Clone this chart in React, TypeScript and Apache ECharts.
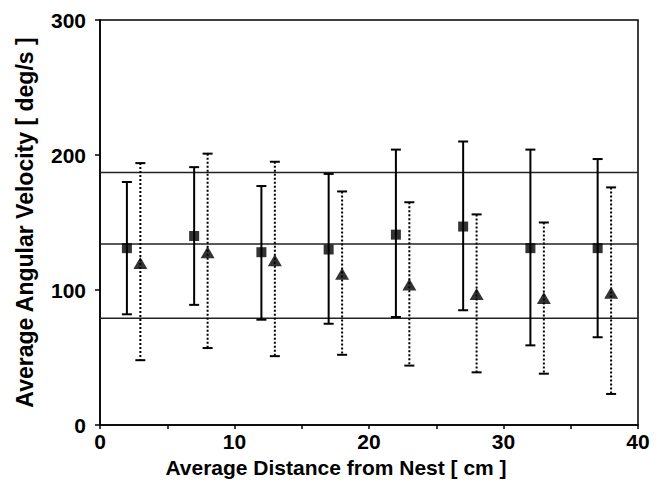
import React, { useEffect, useRef } from "react";
import * as echarts from "echarts";

const xSquare = [2, 7, 12, 17, 22, 27, 32, 37];
const squareMean = [131, 140, 128, 130, 141, 147, 131, 131];
const squareHigh = [180, 191, 177, 186, 204, 210, 204, 197];
const squareLow = [82, 89, 78, 75, 80, 85, 59, 65];

const xTri = [3, 8, 13, 18, 23, 28, 33, 38];
const triMean = [120, 128, 122, 112, 104, 97, 94, 98];
const triHigh = [194, 201, 195, 173, 165, 156, 150, 176];
const triLow = [48, 57, 51, 52, 44, 39, 38, 23];

const refLines = [187, 134, 79];

const xTitle = "Average Distance from Nest [ cm ]";
const yTitle = "Average Angular Velocity [ deg/s ]";

const FONT = "'Liberation Sans', Arial, Helvetica, sans-serif";

function errorBarSeries(xs: number[], lows: number[], highs: number[], dashed: boolean) {
  return {
    type: "custom",
    z: 3,
    data: xs.map((x, i) => [x, lows[i], highs[i]]),
    encode: { x: 0, y: [1, 2] },
    renderItem: (params: any, api: any) => {
      const x = api.value(0);
      const lo = api.value(1);
      const hi = api.value(2);
      const pHi = api.coord([x, hi]);
      const pLo = api.coord([x, lo]);
      const w = 5;
      const style: any = { stroke: "#000", lineWidth: 2 };
      if (dashed) style.lineDash = [2, 2];
      const capStyle = { stroke: "#000", lineWidth: 2 };
      return {
        type: "group",
        children: [
          { type: "line", shape: { x1: pHi[0], y1: pHi[1], x2: pLo[0], y2: pLo[1] }, style },
          { type: "line", shape: { x1: pHi[0] - w, y1: pHi[1], x2: pHi[0] + w, y2: pHi[1] }, style: capStyle },
          { type: "line", shape: { x1: pLo[0] - w, y1: pLo[1], x2: pLo[0] + w, y2: pLo[1] }, style: capStyle },
        ],
      };
    },
  };
}

export default function App() {
  const ref = useRef<HTMLDivElement>(null);
  useEffect(() => {
    if (!ref.current) return;
    const chart = echarts.init(ref.current, null, { renderer: "svg" });
    const series: any[] = [];
    refLines.forEach((v) => {
      series.push({
        type: "line",
        data: [[0, v], [40, v]],
        symbol: "none",
        lineStyle: { color: "#222", width: 1.5 },
        z: 1,
        silent: true,
      });
    });
    series.push(errorBarSeries(xSquare, squareLow, squareHigh, false));
    series.push(errorBarSeries(xTri, triLow, triHigh, true));
    series.push({
      type: "scatter",
      data: xSquare.map((x, i) => [x, squareMean[i]]),
      symbol: "rect",
      symbolSize: 10,
      itemStyle: { color: "#000" },
      z: 5,
    });
    series.push({
      type: "scatter",
      data: xTri.map((x, i) => [x, triMean[i]]),
      symbol: "triangle",
      symbolSize: [14, 12],
      itemStyle: { color: "#000" },
      z: 5,
    });

    chart.setOption({
      animation: false,
      backgroundColor: "#fff",
      grid: {
        left: 100,
        right: 20,
        top: 20,
        bottom: 62,
        show: true,
        borderColor: "#000",
        borderWidth: 1.5,
        backgroundColor: "transparent",
      },
      xAxis: {
        type: "value",
        min: 0,
        max: 40,
        interval: 5,
        name: xTitle,
        nameLocation: "middle",
        nameGap: 30,
        nameTextStyle: {
          fontFamily: FONT,
          fontWeight: "bold",
          fontSize: 21,
          color: "#000",
          padding: [0, 66, 0, 0],
        },
        axisLine: { show: true, lineStyle: { color: "#000", width: 1.5 } },
        axisTick: { show: true, inside: false, length: 4, lineStyle: { color: "#000", width: 1.5 } },
        axisLabel: {
          fontFamily: FONT,
          fontWeight: "bold",
          fontSize: 21,
          color: "#000",
          margin: 6,
          formatter: (v: number) => (v % 10 === 0 ? String(v) : ""),
        },
        splitLine: { show: false },
      },
      yAxis: {
        type: "value",
        min: 0,
        max: 300,
        interval: 100,
        name: yTitle,
        nameLocation: "middle",
        nameGap: 64,
        nameTextStyle: { fontFamily: FONT, fontWeight: "bold", fontSize: 23, color: "#000" },
        axisLine: { show: true, lineStyle: { color: "#000", width: 1.5 } },
        axisTick: { show: true, inside: false, length: 5, lineStyle: { color: "#000", width: 1.5 } },
        axisLabel: {
          fontFamily: FONT,
          fontWeight: "bold",
          fontSize: 21,
          color: "#000",
          margin: 14,
        },
        splitLine: { show: false },
      },
      series,
    });
    return () => chart.dispose();
  }, []);
  return <div ref={ref} style={{ width: 658, height: 487, position: "absolute", left: 0, top: 0 }} />;
}
